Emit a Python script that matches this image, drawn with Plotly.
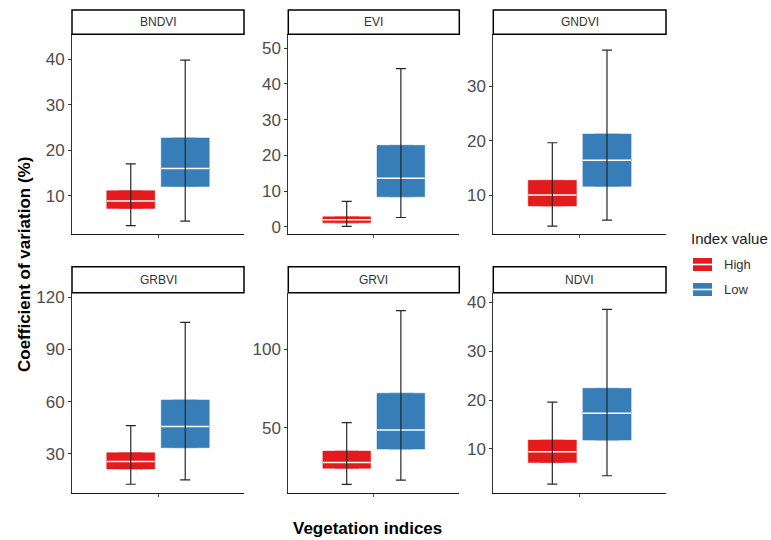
import plotly.graph_objects as go

W, H = 771, 540

# ---- data -------------------------------------------------------------
indices = ["BNDVI", "EVI", "GNDVI", "GRBVI", "GRVI", "NDVI"]
groups = ["High", "Low"]

# summary statistics per index (whisker ends, quartiles, median)
high_lower = [3.4, 0.1, 4.3, 12.6, 13.9, 2.8]
high_q1 = [7.2, 1.1, 8.0, 21.4, 24.1, 7.2]
high_median = [8.8, 2.0, 10.0, 25.6, 27.9, 9.4]
high_q3 = [11.1, 2.8, 12.7, 30.7, 35.1, 11.8]
high_upper = [17.0, 7.1, 19.6, 46.3, 53.2, 19.6]

low_lower = [4.4, 2.6, 5.4, 15.1, 16.6, 4.5]
low_q1 = [12.0, 8.4, 11.6, 33.6, 36.4, 11.8]
low_median = [16.0, 13.6, 16.4, 45.7, 48.5, 17.3]
low_q3 = [22.7, 22.8, 21.2, 61.0, 72.0, 22.4]
low_upper = [39.8, 44.3, 36.6, 105.6, 124.7, 38.6]

stats = {
    "High": (high_lower, high_q1, high_median, high_q3, high_upper),
    "Low": (low_lower, low_q1, low_median, low_q3, low_upper),
}

# ---- styling / layout -------------------------------------------------
colors = {"High": "#E41A1C", "Low": "#377EB8"}
dodge = {"High": 0.81, "Low": 1.19}
box_width = 0.335

y_ranges = [[1.5, 45.5], [-2.1, 53.9], [2.8, 39.5],
            [7.4, 122.6], [8.2, 136.1], [0.9, 42.0]]
y_dticks = [10, 10, 10, 30, 50, 10]

col_px = [(72, 244), (288.3, 459.3), (493.3, 666)]
plot_rows_px = [(34.3, 234.3), (292.7, 493.3)]
strip_rows_px = [(10, 34.3), (266.7, 292.7)]

FONT = "Liberation Sans, Arial, sans-serif"


def px_x(v):
    return v / W


def px_y(v):
    return 1 - v / H


fig = go.Figure()
shapes = []
annotations = []
layout_axes = {}

for i, name in enumerate(indices):
    r, c = divmod(i, 3)
    k = "" if i == 0 else str(i + 1)
    xa, ya = "x" + k, "y" + k
    x0, x1 = col_px[c]
    yt, yb = plot_rows_px[r]

    for g in groups:
        lo, q1, med, q3, hi = (arr[i] for arr in stats[g])
        pos = dodge[g]
        # filled interquartile box
        fig.add_trace(go.Box(
            x=[pos], q1=[q1], median=[med], q3=[q3],
            lowerfence=[q1], upperfence=[q3],
            width=box_width, fillcolor=colors[g],
            line=dict(color=colors[g], width=0.5),
            boxpoints=False, showlegend=False, hoverinfo="skip",
            xaxis=xa, yaxis=ya,
        ))
        # white median line across the box
        fig.add_trace(go.Scatter(
            x=[pos - box_width / 2, pos + box_width / 2], y=[med, med],
            mode="lines", line=dict(color="white", width=1.5),
            showlegend=False, hoverinfo="skip",
            xaxis=xa, yaxis=ya,
        ))
        # whiskers drawn as capped error bars
        fig.add_trace(go.Scatter(
            x=[pos], y=[med], mode="markers",
            marker=dict(size=1, color="rgba(0,0,0,0)"),
            error_y=dict(type="data", symmetric=False,
                         array=[hi - med], arrayminus=[med - lo],
                         color="#262626", thickness=1.2, width=5),
            showlegend=False, hoverinfo="skip",
            xaxis=xa, yaxis=ya,
        ))

    layout_axes["xaxis" + k] = dict(
        domain=[px_x(x0), px_x(x1)], range=[0.4, 1.6], anchor=ya,
        showgrid=False, zeroline=False, showline=True,
        linecolor="#1a1a1a", linewidth=1.2,
        tickvals=[1], ticktext=[""], ticks="outside", ticklen=3,
        tickcolor="#555", automargin=False, fixedrange=True,
    )
    layout_axes["yaxis" + k] = dict(
        domain=[px_y(yb), px_y(yt)], range=y_ranges[i], anchor=xa,
        dtick=y_dticks[i], tick0=0,
        showgrid=False, zeroline=False, showline=True,
        linecolor="#333", linewidth=1,
        ticks="outside", ticklen=3, tickcolor="#333",
        tickfont=dict(family=FONT, size=17, color="#4d4d4d"),
        automargin=False, fixedrange=True,
    )

    # facet strip
    st, sb = strip_rows_px[r]
    shapes.append(dict(type="rect", xref="paper", yref="paper",
                       x0=px_x(x0), x1=px_x(x1), y0=px_y(sb), y1=px_y(st),
                       line=dict(color="black", width=1.5),
                       fillcolor="white", layer="above"))
    annotations.append(dict(text=name, xref="paper", yref="paper",
                            x=px_x((x0 + x1) / 2), y=px_y((st + sb) / 2),
                            showarrow=False, xanchor="center", yanchor="middle",
                            font=dict(family=FONT, size=12, color="#333")))

# axis titles
annotations.append(dict(text="<b>Coefficient of variation (%)</b>",
                        xref="paper", yref="paper", x=px_x(24), y=px_y(265),
                        textangle=-90, showarrow=False,
                        xanchor="center", yanchor="middle",
                        font=dict(family=FONT, size=17, color="black")))
annotations.append(dict(text="<b>Vegetation indices</b>",
                        xref="paper", yref="paper", x=px_x(367.5), y=px_y(528),
                        showarrow=False, xanchor="center", yanchor="middle",
                        font=dict(family=FONT, size=17, color="black")))

# legend
annotations.append(dict(text="Index value", xref="paper", yref="paper",
                        x=px_x(689), y=px_y(238), showarrow=False,
                        xanchor="left", yanchor="middle",
                        font=dict(family=FONT, size=15, color="#1a1a1a")))
legend_rows = {"High": 264.5, "Low": 289.5}
for g in groups:
    cy = legend_rows[g]
    shapes.append(dict(type="rect", xref="paper", yref="paper",
                       x0=px_x(693), x1=px_x(712),
                       y0=px_y(cy + 6.5), y1=px_y(cy - 6.5),
                       line=dict(width=0), fillcolor=colors[g]))
    shapes.append(dict(type="line", xref="paper", yref="paper",
                       x0=px_x(693), x1=px_x(712), y0=px_y(cy), y1=px_y(cy),
                       line=dict(color="white", width=1.6)))
    annotations.append(dict(text=g, xref="paper", yref="paper",
                            x=px_x(722), y=px_y(cy), showarrow=False,
                            xanchor="left", yanchor="middle",
                            font=dict(family=FONT, size=13, color="#333")))

fig.update_layout(
    width=W, height=H,
    margin=dict(l=0, r=0, t=0, b=0),
    paper_bgcolor="white", plot_bgcolor="white",
    showlegend=False, boxmode="overlay",
    shapes=shapes, annotations=annotations,
    font=dict(family=FONT),
    **layout_axes,
)

fig.write_html("out.html")
